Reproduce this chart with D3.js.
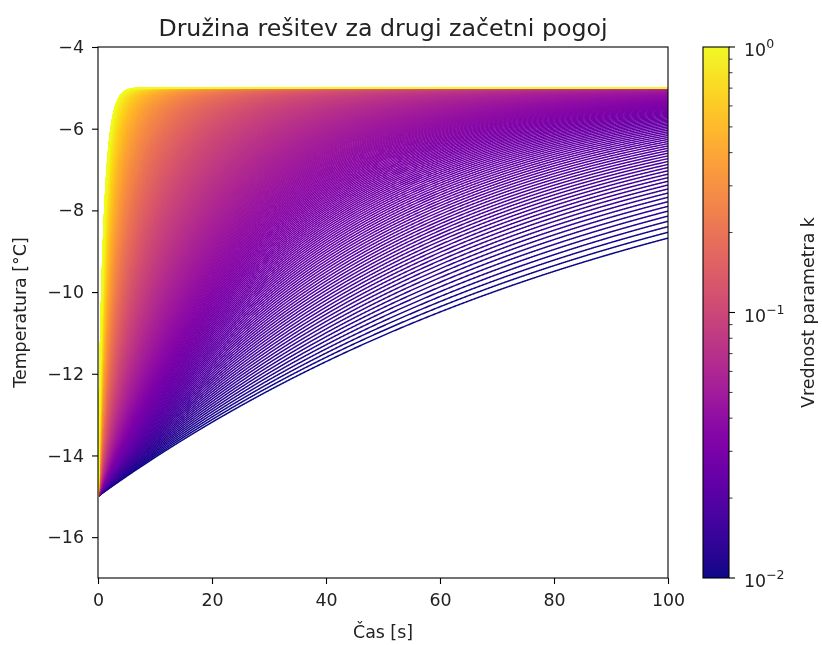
<!DOCTYPE html>
<html>
<head>
<meta charset="utf-8">
<script src="https://cdn.jsdelivr.net/npm/d3@7"></script>
<style>
  html, body { margin: 0; padding: 0; background: #fff; }
  #wrap { position: relative; width: 822px; height: 645px; }
  #wrap canvas, #wrap svg { position: absolute; left: 0; top: 0; }
  svg text { font-family: "DejaVu Sans", sans-serif; fill: #222; }
</style>
</head>
<body>
<div id="wrap">
  <canvas id="curves" width="822" height="645"></canvas>
  <svg id="chart" width="822" height="645"></svg>
</div>
<script>
// Parameter sweep for k: evenly stepped from kFirst to kLast
const kFirst = 0.01;
const kLast = 1.0;
const kCount = 2500;
const initialTemp = -15;   // T(0)
const ambientTemp = -5;    // temperature the solutions approach
const tEnd = 100;          // simulated time span [s]
const xTicks = [0, 20, 40, 60, 80, 100];
const yTicks = [-16, -14, -12, -10, -8, -6, -4];
const cbarMajor = [0.01, 0.1, 1];
const cbarExp = ["−2", "−1", "0"];

const kValues = d3.range(kCount).map(i => kFirst + (kLast - kFirst) * i / (kCount - 1));
const times = d3.range(0, tEnd + 1e-9, 0.1);
// solution of dT/dt = -k (T - Ta), T(0) = T0
const solution = k => times.map(t => [t, ambientTemp + (initialTemp - ambientTemp) * Math.exp(-k * t)]);

const svg = d3.select("#chart");
const L = 98, R = 668, T = 47, B = 578;
const FS = 17.4;

const x = d3.scaleLinear().domain([0, tEnd]).range([L, R]);
const y = d3.scaleLinear().domain([-17, -4]).range([B, T]);
const kScale = d3.scaleLog().domain([0.01, 1]).clamp(true);
const color = k => d3.interpolatePlasma(kScale(k));

// curves on canvas (many lines), smallest k first so large k ends up on top
const ctx = document.getElementById("curves").getContext("2d");
ctx.save();
ctx.beginPath();
ctx.rect(L, T, R - L, B - T);
ctx.clip();
const line = d3.line().x(d => x(d[0])).y(d => y(d[1])).context(ctx);
ctx.lineWidth = 1.5;
ctx.lineJoin = "round";
kValues.forEach(k => {
  ctx.beginPath();
  line(solution(k));
  ctx.strokeStyle = color(k);
  ctx.stroke();
});
ctx.restore();

// axes
const xAxis = d3.axisBottom(x).tickValues(xTicks).tickSize(6).tickPadding(10).tickFormat(d3.format("d"));
const yAxis = d3.axisLeft(y).tickValues(yTicks).tickSize(6).tickPadding(8)
  .tickFormat(d => (d < 0 ? "−" : "") + Math.abs(d));

const gx = svg.append("g").attr("transform", `translate(0,${B})`).call(xAxis);
const gy = svg.append("g").attr("transform", `translate(${L},0)`).call(yAxis);
[gx, gy].forEach(g => {
  g.select(".domain").remove();
  g.selectAll("line").attr("stroke", "#000").attr("stroke-width", 1.1);
  g.selectAll("text").style("font-size", FS + "px").style("font-family", "DejaVu Sans").attr("fill", "#222");
});

// frame
svg.append("rect").attr("x", L).attr("y", T).attr("width", R - L).attr("height", B - T)
  .attr("fill", "none").attr("stroke", "#000").attr("stroke-width", 1.1);

// labels
svg.append("text").attr("x", (L + R) / 2).attr("y", 36).attr("text-anchor", "middle")
  .style("font-size", "23.7px").text("Družina rešitev za drugi začetni pogoj");
svg.append("text").attr("x", (L + R) / 2).attr("y", 638).attr("text-anchor", "middle")
  .style("font-size", FS + "px").text("Čas [s]");
svg.append("text").attr("transform", `translate(26,${(T + B) / 2}) rotate(-90)`).attr("text-anchor", "middle")
  .style("font-size", FS + "px").text("Temperatura [°C]");

// colorbar
const cbL = 703, cbR = 729;
const cy = d3.scaleLog().domain([0.01, 1]).range([B, T]);
const grad = svg.append("defs").append("linearGradient").attr("id", "cbgrad")
  .attr("x1", 0).attr("y1", 1).attr("x2", 0).attr("y2", 0);
d3.range(0, 1.0001, 0.02).forEach(f => {
  grad.append("stop").attr("offset", f).attr("stop-color", d3.interpolatePlasma(f));
});
svg.append("rect").attr("x", cbL).attr("y", T).attr("width", cbR - cbL).attr("height", B - T)
  .attr("fill", "url(#cbgrad)");
svg.append("rect").attr("x", cbL).attr("y", T).attr("width", cbR - cbL).attr("height", B - T)
  .attr("fill", "none").attr("stroke", "#000").attr("stroke-width", 1.1);

const minor = [];
[0.01, 0.1].forEach(b => { for (let m = 2; m <= 9; m++) minor.push(b * m); });
const cbAxis = svg.append("g");
cbAxis.selectAll("line.minor").data(minor).join("line")
  .attr("x1", cbR).attr("x2", cbR + 3.5).attr("y1", d => cy(d)).attr("y2", d => cy(d))
  .attr("stroke", "#000").attr("stroke-width", 0.8);
cbAxis.selectAll("line.major").data(cbarMajor).join("line")
  .attr("x1", cbR).attr("x2", cbR + 6).attr("y1", d => cy(d)).attr("y2", d => cy(d))
  .attr("stroke", "#000").attr("stroke-width", 1.1);
cbarMajor.forEach((v, i) => {
  const t = cbAxis.append("text").attr("x", 744).attr("y", cy(v) + 9).style("font-size", FS + "px");
  t.append("tspan").text("10");
  t.append("tspan").attr("dy", -8).style("font-size", "12.5px").text(cbarExp[i]);
});
svg.append("text").attr("transform", `translate(814,${(T + B) / 2}) rotate(-90)`).attr("text-anchor", "middle")
  .style("font-size", FS + "px").text("Vrednost parametra k");
</script>
</body>
</html>
